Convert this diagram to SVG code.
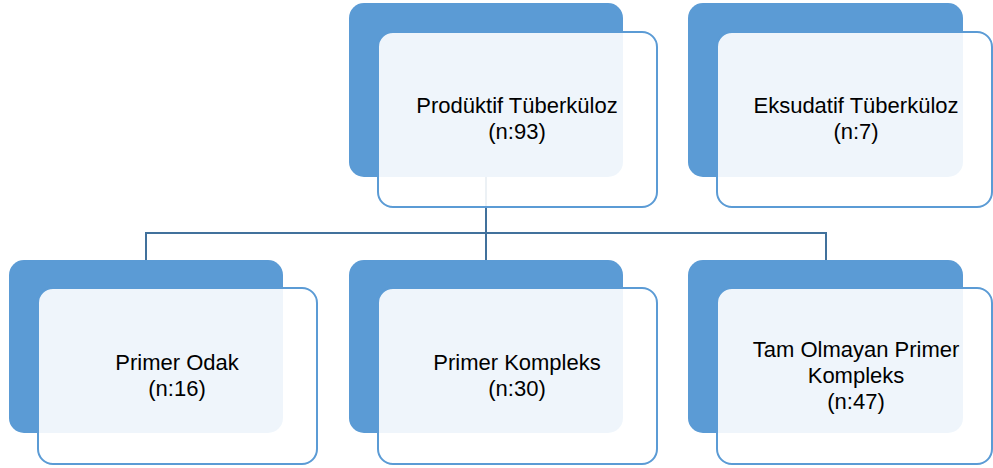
<svg xmlns="http://www.w3.org/2000/svg" width="993" height="468" viewBox="0 0 993 468">
<style>
.back{fill:#5B9BD5;}
.front{fill:#FFFFFF;fill-opacity:0.9;stroke:#5B9BD5;stroke-width:2;}
.conn{fill:none;stroke:#41719C;stroke-width:2;}
text{font-family:"Liberation Sans",Arial,sans-serif;font-size:22px;fill:#000;text-anchor:middle;}
</style>
<rect width="993" height="468" fill="#FFFFFF"/>
<g id="connectors">
<path class="conn" d="M486 177 V233 M146 260 V233 H826 V260 M486 233 V260"/>
</g>
<g id="n1">
<rect class="back" x="349" y="3" width="274" height="174" rx="15"/>
<rect class="front" x="378" y="32" width="279" height="175" rx="15"/>
<text x="517" y="113">Prodüktif Tüberküloz</text>
<text x="517" y="139">(n:93)</text>
</g>
<g id="n2">
<rect class="back" x="688" y="3" width="275" height="174" rx="15"/>
<rect class="front" x="717" y="32" width="275" height="175" rx="15"/>
<text x="856" y="113">Eksudatif Tüberküloz</text>
<text x="856" y="139">(n:7)</text>
</g>
<g id="n3">
<rect class="back" x="9" y="260" width="274" height="173" rx="15"/>
<rect class="front" x="38" y="288" width="279" height="176" rx="15"/>
<text x="177" y="370">Primer Odak</text>
<text x="177" y="396">(n:16)</text>
</g>
<g id="n4">
<rect class="back" x="349" y="260" width="274" height="173" rx="15"/>
<rect class="front" x="378" y="288" width="279" height="176" rx="15"/>
<text x="517" y="370">Primer Kompleks</text>
<text x="517" y="396">(n:30)</text>
</g>
<g id="n5">
<rect class="back" x="688" y="260" width="275" height="173" rx="15"/>
<rect class="front" x="717" y="288" width="275" height="176" rx="15"/>
<text x="856" y="357">Tam Olmayan Primer</text>
<text x="856" y="383">Kompleks</text>
<text x="856" y="409">(n:47)</text>
</g>
</svg>
